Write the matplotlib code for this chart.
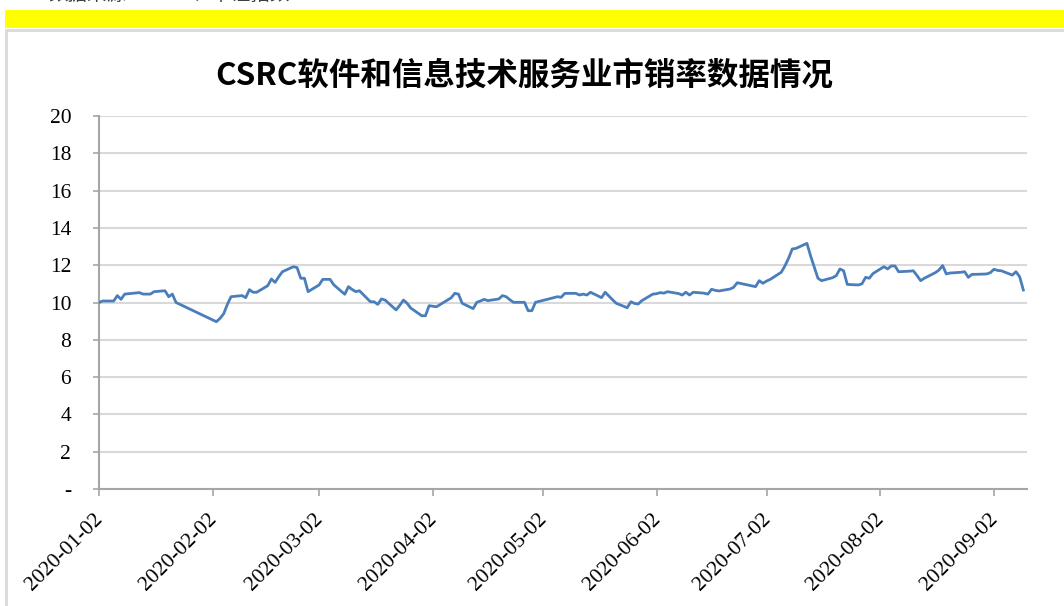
import matplotlib
matplotlib.use("Agg")
import matplotlib.pyplot as plt
from matplotlib.patches import Rectangle
from matplotlib.transforms import ScaledTranslation
import pandas as pd

title = "CSRC软件和信息技术服务业市销率数据情况"
source_note = "数据来源：Wind、中证指数"

dates = [
    "2020-01-02", "2020-01-03", "2020-01-06", "2020-01-07", "2020-01-08", "2020-01-09",
    "2020-01-13", "2020-01-14", "2020-01-16", "2020-01-17", "2020-01-20", "2020-01-21",
    "2020-01-22", "2020-01-23",
    "2020-02-03", "2020-02-04", "2020-02-05", "2020-02-06", "2020-02-07", "2020-02-10",
    "2020-02-11", "2020-02-12", "2020-02-13", "2020-02-14", "2020-02-17", "2020-02-18",
    "2020-02-19", "2020-02-20", "2020-02-21", "2020-02-24", "2020-02-25", "2020-02-26",
    "2020-02-27", "2020-02-28",
    "2020-03-02", "2020-03-03", "2020-03-04", "2020-03-05", "2020-03-06", "2020-03-09",
    "2020-03-10", "2020-03-11", "2020-03-12", "2020-03-13", "2020-03-16", "2020-03-17",
    "2020-03-18", "2020-03-19", "2020-03-20", "2020-03-23", "2020-03-24", "2020-03-25",
    "2020-03-26", "2020-03-27", "2020-03-30", "2020-03-31",
    "2020-04-01", "2020-04-02", "2020-04-03", "2020-04-07", "2020-04-08", "2020-04-09",
    "2020-04-10", "2020-04-13", "2020-04-14", "2020-04-15", "2020-04-16", "2020-04-17",
    "2020-04-20", "2020-04-21", "2020-04-22", "2020-04-23", "2020-04-24", "2020-04-27",
    "2020-04-28", "2020-04-29", "2020-04-30",
    "2020-05-06", "2020-05-07", "2020-05-08", "2020-05-11", "2020-05-12", "2020-05-13",
    "2020-05-14", "2020-05-15", "2020-05-18", "2020-05-19", "2020-05-20", "2020-05-21",
    "2020-05-22", "2020-05-25", "2020-05-26", "2020-05-27", "2020-05-28", "2020-05-29",
    "2020-06-01", "2020-06-02", "2020-06-03", "2020-06-04", "2020-06-05", "2020-06-08",
    "2020-06-09", "2020-06-10", "2020-06-11", "2020-06-12", "2020-06-15", "2020-06-16",
    "2020-06-17", "2020-06-18", "2020-06-19", "2020-06-22", "2020-06-23", "2020-06-24",
    "2020-06-29", "2020-06-30",
    "2020-07-01", "2020-07-02", "2020-07-03", "2020-07-06", "2020-07-07", "2020-07-08",
    "2020-07-09", "2020-07-10", "2020-07-13", "2020-07-14", "2020-07-15", "2020-07-16",
    "2020-07-17", "2020-07-20", "2020-07-21", "2020-07-22", "2020-07-23", "2020-07-24",
    "2020-07-27", "2020-07-28", "2020-07-29", "2020-07-30", "2020-07-31",
    "2020-08-03", "2020-08-04", "2020-08-05", "2020-08-06", "2020-08-07", "2020-08-10",
    "2020-08-11", "2020-08-12", "2020-08-13", "2020-08-14", "2020-08-17", "2020-08-18",
    "2020-08-19", "2020-08-20", "2020-08-21", "2020-08-24", "2020-08-25", "2020-08-26",
    "2020-08-27", "2020-08-28", "2020-08-31",
    "2020-09-01", "2020-09-02", "2020-09-03", "2020-09-04", "2020-09-07", "2020-09-08",
    "2020-09-09", "2020-09-10",
]

ps_ratio = [
    10.00, 10.08, 10.08, 10.37, 10.17, 10.45,
    10.53, 10.45, 10.45, 10.58, 10.63, 10.31,
    10.45, 10.00,
    8.97, 9.15, 9.40, 9.90, 10.31, 10.37,
    10.26, 10.69, 10.55, 10.55, 10.90, 11.26,
    11.08, 11.38, 11.65, 11.92, 11.87, 11.30,
    11.30, 10.58,
    10.94, 11.24, 11.24, 11.24, 10.95, 10.44,
    10.85, 10.70, 10.58, 10.63, 10.04, 10.04,
    9.90, 10.19, 10.13, 9.60, 9.85, 10.13,
    9.96, 9.70, 9.29, 9.29,
    9.83, 9.80, 9.77, 10.25, 10.49, 10.45,
    9.96, 9.67, 10.01, 10.08, 10.17, 10.10,
    10.19, 10.37, 10.31, 10.15, 10.01, 10.01,
    9.56, 9.56, 10.01,
    10.31, 10.28, 10.49, 10.49, 10.40, 10.45,
    10.40, 10.55, 10.26, 10.55, 10.35, 10.15,
    9.96, 9.72, 10.04, 9.95, 9.92, 10.10,
    10.45, 10.47, 10.53, 10.50, 10.58, 10.48,
    10.40, 10.55, 10.40, 10.55, 10.50, 10.45,
    10.71, 10.65, 10.62, 10.72, 10.81, 11.06,
    10.85, 11.17,
    11.03, 11.15, 11.24, 11.62, 11.96, 12.37,
    12.87, 12.90, 13.17, 12.50, 11.90, 11.30,
    11.17, 11.33, 11.44, 11.80, 11.70, 10.97,
    10.94, 11.00, 11.35, 11.30, 11.55,
    11.92, 11.80, 11.96, 11.96, 11.65, 11.68,
    11.70, 11.45, 11.17, 11.30, 11.60, 11.74,
    11.98, 11.53, 11.58, 11.62, 11.65, 11.35,
    11.51, 11.51, 11.53,
    11.60, 11.78, 11.72, 11.70, 11.47, 11.65,
    11.38, 10.67,
]

tick_dates = ["2020-01-02", "2020-02-02", "2020-03-02", "2020-04-02", "2020-05-02",
              "2020-06-02", "2020-07-02", "2020-08-02", "2020-09-02"]
y_ticks = [0, 2, 4, 6, 8, 10, 12, 14, 16, 18, 20]
y_labels = ["-", "2", "4", "6", "8", "10", "12", "14", "16", "18", "20"]

W, H = 1064, 606
fig = plt.figure(figsize=(W / 100, H / 100), dpi=100)
fig.patch.set_facecolor("white")

# yellow band and chart frame
fig.patches.append(Rectangle((5 / W, 1 - 28 / H), 1, 18 / H, transform=fig.transFigure,
                             facecolor="#FFFF00", edgecolor="none", zorder=0))
fig.patches.append(Rectangle((6 / W, -0.05), 1.1, (1 - 29.5 / H) + 0.05, transform=fig.transFigure,
                             facecolor="none", edgecolor="#D9D9D9", lw=2.0, zorder=0))
fig.text(48 / W, 1 + 6 / H, source_note, fontsize=14, color="#404040",
         family=["Noto Sans CJK SC", "DejaVu Sans"], va="center", ha="left")

fig.text(524 / W, 1 - 76 / H, title, fontsize=22.7, fontweight="bold", color="black",
         family=["Noto Sans CJK SC", "DejaVu Sans"], ha="center", va="center")

ax = fig.add_axes([99 / W, 1 - 489 / H, (1027 - 99) / W, (489 - 116) / H], zorder=2)
ax.patch.set_alpha(0)
x = pd.to_datetime(dates)
ax.plot(x, ps_ratio, color="#4A7EBB", lw=2.0, solid_joinstyle="round", zorder=3)

ax.set_xlim(pd.Timestamp("2020-01-02"), pd.Timestamp("2020-09-11"))
ax.set_ylim(0, 20)
ax.set_yticks(y_ticks)
ax.set_yticklabels(y_labels)
ticks = pd.to_datetime(tick_dates)
ax.set_xticks(ticks)
ax.set_xticklabels(tick_dates)

for lab in ax.get_xticklabels() + ax.get_yticklabels():
    lab.set_family("Liberation Serif")
    lab.set_fontsize(15.5)
    lab.set_color("black")

ax.yaxis.grid(True, color="#D9D9D9", lw=1.5)
ax.set_axisbelow(True)
for s in ["top", "right"]:
    ax.spines[s].set_visible(False)
for s in ["left", "bottom"]:
    ax.spines[s].set_color("#A6A6A6")
    ax.spines[s].set_linewidth(1.5)
ax.tick_params(axis="y", length=4, width=1.2, color="#A6A6A6", pad=16)
ax.tick_params(axis="x", length=5, width=1.2, color="#A6A6A6", pad=10)

offset = ScaledTranslation(8 / 100, 0, fig.dpi_scale_trans)
for lab in ax.get_xticklabels():
    lab.set_rotation(45)
    lab.set_ha("right")
    lab.set_va("top")
    lab.set_transform(lab.get_transform() + offset)

fig.savefig("out.png", dpi=100)
